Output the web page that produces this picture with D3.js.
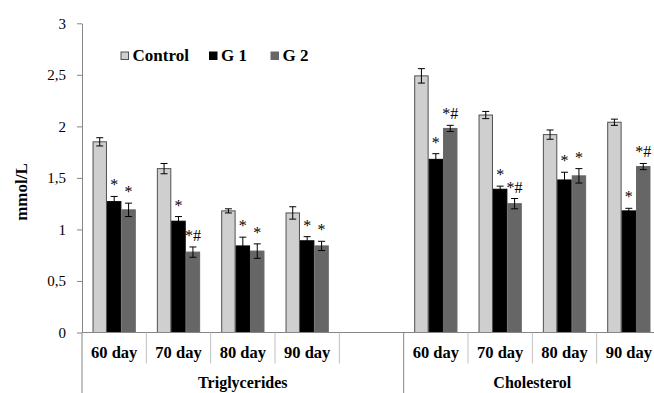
<!DOCTYPE html>
<html lang="en">
<head>
<meta charset="UTF-8">
<title>Triglycerides and cholesterol</title>
<style>
    body { margin: 0; background: #fff; }
    text { font-family: "Liberation Serif", "Times New Roman", serif; fill: #000; }
    .axis path, .axis line { stroke: #868686; }
    .axis text { font-size: 15px; fill: #000; font-family: "Liberation Serif", serif; }
    .mark { opacity: 0.99; }
</style>
</head>
<body>
<svg id="main" width="654" height="393"></svg>

<script src="https://cdn.jsdelivr.net/npm/d3@7"></script>
<script>
var series = ["Control", "G 1", "G 2"];
var groups = ["Triglycerides", "Cholesterol"];
var trigDays = ["60 day", "70 day", "80 day", "90 day", ""];
var cholDays = ["60 day", "70 day", "80 day", "90 day"];

var trigControl = [1.85, 1.59, 1.18, 1.16];
var trigG1 = [1.27, 1.08, 0.84, 0.89];
var trigG2 = [1.19, 0.78, 0.79, 0.84];
var cholControl = [2.49, 2.11, 1.92, 2.04];
var cholG1 = [1.68, 1.39, 1.48, 1.18];
var cholG2 = [1.98, 1.25, 1.52, 1.61];

var trigControlErr = [0.04, 0.05, 0.02, 0.06];
var trigG1Err = [0.05, 0.045, 0.085, 0.04];
var trigG2Err = [0.065, 0.05, 0.07, 0.045];
var cholControlErr = [0.07, 0.035, 0.045, 0.03];
var cholG1Err = [0.055, 0.03, 0.075, 0.025];
var cholG2Err = [0.03, 0.05, 0.07, 0.03];

var trigControlMark = ["", "", "", ""];
var trigG1Mark = ["*", "*", "*", "*"];
var trigG2Mark = ["*", "*#", "*", "*"];
var cholControlMark = ["", "", "", ""];
var cholG1Mark = ["*", "*", "*", "*"];
var cholG2Mark = ["*#", "*#", "*", "*#"];

var yTicks = [0, 0.5, 1, 1.5, 2, 2.5, 3];
var yTickLabels = ["0", "0,5", "1", "1,5", "2", "2,5", "3"];

var colors = ["#cfcfcf", "#000000", "#666666"];
var strokes = ["#505050", "#000000", "#666666"];

// build the category rows
var cats = [];
function addGroup(g, days, vals, errs, marks) {
    days.forEach(function(d, i) {
        var row = { key: g + "|" + i, group: g, day: d, bars: [] };
        if (i < vals[0].length) {
            series.forEach(function(s, j) {
                row.bars.push({ s: s, j: j, v: vals[j][i], e: errs[j][i], m: marks[j][i] });
            });
        }
        cats.push(row);
    });
}
addGroup("Triglycerides", trigDays, [trigControl, trigG1, trigG2],
    [trigControlErr, trigG1Err, trigG2Err], [trigControlMark, trigG1Mark, trigG2Mark]);
addGroup("Cholesterol", cholDays, [cholControl, cholG1, cholG2],
    [cholControlErr, cholG1Err, cholG2Err], [cholControlMark, cholG1Mark, cholG2Mark]);

var svg = d3.select("#main");
var plotLeft = 82, plotRight = 661, plotTop = 23.3, plotBottom = 332.5;

var x0 = d3.scaleBand().domain(cats.map(function(c) { return c.key; })).range([plotLeft, plotRight]);
var x1 = d3.scaleBand().domain(series).range([0, x0.bandwidth()]).paddingInner(0).paddingOuter(0.73);
var y = d3.scaleLinear().domain([0, 3]).range([plotBottom, plotTop]);

// y axis
svg.append("g").attr("class", "axis")
    .attr("transform", "translate(" + plotLeft + ",0)")
    .call(d3.axisLeft(y).tickValues(yTicks)
        .tickFormat(function(d, i) { return yTickLabels[i]; })
        .tickSize(5).tickSizeOuter(0).tickPadding(11));

// bars
var cg = svg.selectAll(".cat").data(cats).enter().append("g")
    .attr("class", "cat")
    .attr("transform", function(c) { return "translate(" + x0(c.key) + ",0)"; });

cg.selectAll("rect").data(function(c) { return c.bars; }).enter().append("rect")
    .attr("x", function(b) { return x1(b.s) + 0.5; })
    .attr("y", function(b) { return y(b.v); })
    .attr("width", x1.bandwidth() - 1)
    .attr("height", function(b) { return plotBottom - y(b.v); })
    .attr("fill", function(b) { return colors[b.j]; })
    .attr("stroke", function(b) { return strokes[b.j]; })
    .attr("stroke-width", 1);

// error bars
var eb = cg.selectAll(".err").data(function(c) { return c.bars; }).enter().append("g")
    .attr("class", "err")
    .attr("stroke", "#000").attr("stroke-width", 1);
eb.append("line")
    .attr("x1", function(b) { return x1(b.s) + x1.bandwidth() / 2; })
    .attr("x2", function(b) { return x1(b.s) + x1.bandwidth() / 2; })
    .attr("y1", function(b) { return y(b.v + b.e); })
    .attr("y2", function(b) { return y(b.v - b.e); });
[1, -1].forEach(function(sg) {
    eb.append("line")
        .attr("x1", function(b) { return x1(b.s) + x1.bandwidth() / 2 - 3.5; })
        .attr("x2", function(b) { return x1(b.s) + x1.bandwidth() / 2 + 3.5; })
        .attr("y1", function(b) { return y(b.v + sg * b.e); })
        .attr("y2", function(b) { return y(b.v + sg * b.e); });
});

// significance marks
cg.selectAll(".mark").data(function(c) { return c.bars.filter(function(b) { return b.m; }); })
    .enter().append("text")
    .attr("class", "mark")
    .attr("x", function(b) { return x1(b.s) + x1.bandwidth() / 2; })
    .attr("y", function(b) { return y(b.v + b.e) - 6; })
    .attr("text-anchor", "middle")
    .attr("font-size", 16)
    .attr("fill", "#000")
    .text(function(b) { return b.m; });

// x axis: baseline, separators and labels
svg.append("line")
    .attr("x1", plotLeft).attr("x2", plotRight).attr("y1", plotBottom).attr("y2", plotBottom)
    .attr("stroke", "#868686");

var firstKeys = groups.map(function(g) {
    return cats.filter(function(c) { return c.group === g; })[0].key;
});
cats.forEach(function(c) {
    var isFirst = firstKeys.indexOf(c.key) >= 0;
    svg.append("line")
        .attr("x1", x0(c.key)).attr("x2", x0(c.key))
        .attr("y1", plotBottom).attr("y2", isFirst ? 393 : plotBottom + 31)
        .attr("stroke", isFirst ? "#868686" : "#c0c0c0");
});
svg.append("line")
    .attr("x1", plotRight).attr("x2", plotRight).attr("y1", plotBottom).attr("y2", 393)
    .attr("stroke", "#868686");

svg.selectAll(".daylab").data(cats).enter().append("text")
    .attr("class", "daylab")
    .attr("x", function(c) { return x0(c.key) + x0.bandwidth() / 2; })
    .attr("y", 358)
    .attr("text-anchor", "middle")
    .attr("font-size", 16.5).attr("font-weight", "bold")
    .text(function(c) { return c.day; });

svg.selectAll(".grplab").data(groups).enter().append("text")
    .attr("class", "grplab")
    .attr("x", function(g) {
        var ks = cats.filter(function(c) { return c.group === g; });
        return (x0(ks[0].key) + x0(ks[ks.length - 1].key) + x0.bandwidth()) / 2;
    })
    .attr("y", 388)
    .attr("text-anchor", "middle")
    .attr("font-size", 16).attr("font-weight", "bold")
    .text(function(g) { return g; });

// y title
svg.append("text")
    .attr("transform", "translate(27,192) rotate(-90)")
    .attr("text-anchor", "middle")
    .attr("font-size", 17).attr("font-weight", "bold")
    .text("mmol/L");

// legend
var legX = [121, 209.5, 271];
var leg = svg.selectAll(".leg").data(series).enter().append("g")
    .attr("class", "leg")
    .attr("transform", function(s, i) { return "translate(" + legX[i] + ",52)"; });
leg.append("rect")
    .attr("width", 7.5).attr("height", 7.5)
    .attr("fill", function(s, i) { return colors[i]; })
    .attr("stroke", function(s, i) { return i === 0 ? "#505050" : colors[i]; });
leg.append("text")
    .attr("x", 11.5).attr("y", 9)
    .attr("font-size", 17).attr("font-weight", "bold")
    .text(function(s) { return s; });
</script>
</body>
</html>
